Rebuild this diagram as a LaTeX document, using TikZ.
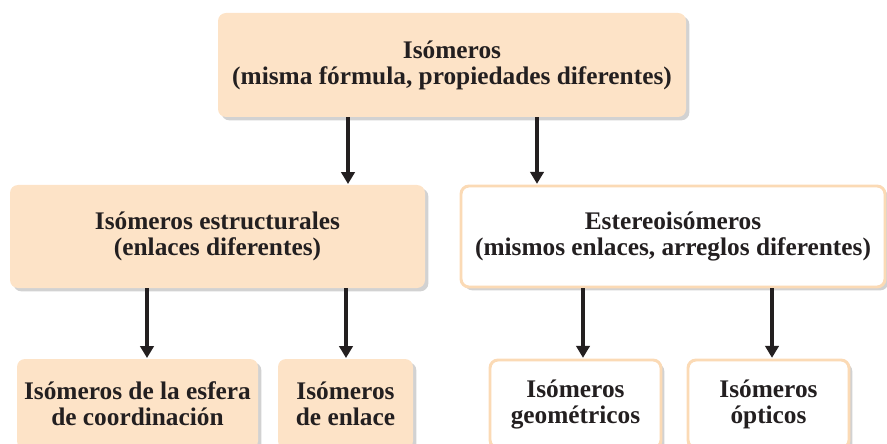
\documentclass[tikz,border=0pt]{standalone}
\usepackage{fontspec}
\setmainfont{Liberation Serif}
\usepackage{tikz}
\usetikzlibrary{arrows.meta,shadows}
\definecolor{Peach}{HTML}{FDE3C7}
\definecolor{PeachLine}{HTML}{FBDAB5}
\definecolor{Ink}{HTML}{231F20}
\tikzset{
  box/.style={rounded corners=6pt, text=Ink, align=center,
    font=\fontsize{19}{19.5}\selectfont\bfseries,
    drop shadow={shadow xshift=2.5pt, shadow yshift=-2.5pt, fill=black!22, opacity=.8}},
  peachbox/.style={box, fill=Peach},
  whitebox/.style={box, fill=white, draw=PeachLine, line width=2.2pt},
  arr/.style={-{Triangle[length=9pt,width=10pt]}, line width=3pt, Ink, shorten >=0.5pt}
}
\begin{document}
\begin{tikzpicture}[x=0.75pt,y=0.75pt]
  \useasboundingbox (0,0) rectangle (887,443);
  % level 1
  \node[peachbox,minimum width=468*0.75pt,minimum height=104*0.75pt] (iso) at (452,378)
    {Isómeros\\(misma fórmula, propiedades diferentes)};
  % level 2
  \node[peachbox,minimum width=415*0.75pt,minimum height=103*0.75pt] (estr) at (217.5,206.5)
    {Isómeros estructurales\\(enlaces diferentes)};
  \node[whitebox,minimum width=424*0.75pt,minimum height=101*0.75pt] (ester) at (673,206.5)
    {Estereoisómeros\\(mismos enlaces, arreglos diferentes)};
  % level 3
  \node[peachbox,minimum width=241*0.75pt,minimum height=90*0.75pt] (esfera) at (137.5,39)
    {Isómeros de la esfera\\de coordinación};
  \node[peachbox,minimum width=135*0.75pt,minimum height=90*0.75pt] (enlace) at (345.5,39)
    {Isómeros\\de enlace};
  \node[whitebox,minimum width=171*0.75pt,minimum height=88*0.75pt] (geom) at (575.5,39)
    {Isómeros\\geométricos};
  \node[whitebox,minimum width=161*0.75pt,minimum height=88*0.75pt] (opt) at (768.5,39)
    {Isómeros\\ópticos};
  % arrow columns
  \coordinate (c1) at (348,0);
  \coordinate (c2) at (537,0);
  \coordinate (c3) at (147,0);
  \coordinate (c4) at (346,0);
  \coordinate (c5) at (583,0);
  \coordinate (c6) at (772,0);
  \draw[arr] (iso.south -| c1) -- (c1 |- estr.north);
  \draw[arr] (iso.south -| c2) -- (c2 |- ester.north);
  \draw[arr] (estr.south -| c3) -- (c3 |- esfera.north);
  \draw[arr] (estr.south -| c4) -- (c4 |- enlace.north);
  \draw[arr] (ester.south -| c5) -- (c5 |- geom.north);
  \draw[arr] (ester.south -| c6) -- (c6 |- opt.north);
\end{tikzpicture}
\end{document}
